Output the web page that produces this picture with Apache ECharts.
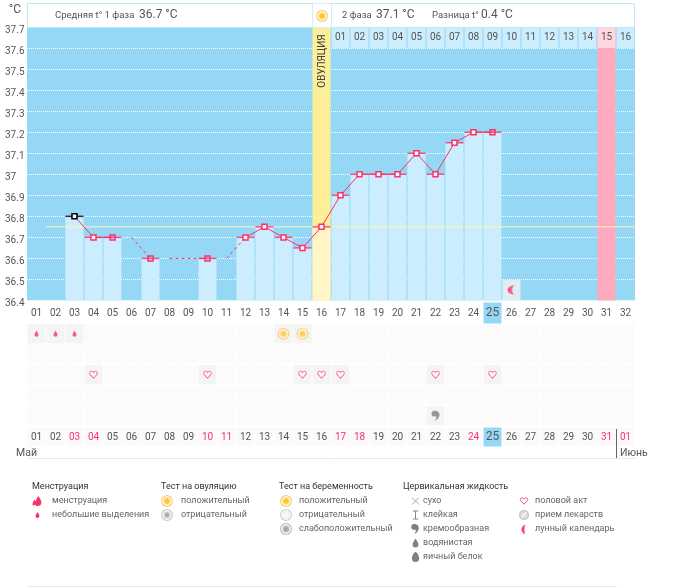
<!DOCTYPE html>
<html>
<head>
<meta charset="utf-8">
<title>График</title>
<style>
  html, body { margin: 0; padding: 0; background: #fff; }
  #chart { width: 673px; height: 587px; }
</style>
<script src="https://cdn.jsdelivr.net/npm/echarts@6/dist/echarts.min.js"></script>
</head>
<body>
<div id="chart"></div>
<script>
// данные графика
var cycleDays = ['01','02','03','04','05','06','07','08','09','10','11','12','13','14','15','16',
  '17','18','19','20','21','22','23','24','25','26','27','28','29','30','31','32'];
var calendarDates = ['01','02','03','04','05','06','07','08','09','10','11','12','13','14','15','16',
  '17','18','19','20','21','22','23','24','25','26','27','28','29','30','31','01'];
var redDates = [3, 4, 10, 11, 17, 18, 24, 31, 32];
var phaseDays = ['01','02','03','04','05','06','07','08','09','10','11','12','13','14','15','16'];
var temperature = [null, null, 36.8, 36.7, 36.7, null, 36.6, null, null, 36.6, null, 36.7, 36.75, 36.7, 36.65, 36.75,
  36.9, 37, 37, 37, 37.1, 37, 37.15, 37.2, 37.2, null, null, null, null, null, null, null];
var hollowDays = [5, 7, 10, 25];
var gapDays1 = [6, 7];
var gapTemps1 = [36.7, 36.6];
var gapDays2 = [8, 10];
var gapTemps2 = [36.6, 36.6];
var gapDays3 = [11, 12];
var gapTemps3 = [36.6, 36.7];
var coverLine = 36.75;
var ovulationDay = 16;
var periodDay = 31;
var todayDay = 25;
var moonDay = 26;
var moonTemp = 36.45;
var bleedingDays = [1, 2, 3];
var ovulationTestDays = [14, 15];
var intercourseDays = [4, 10, 15, 16, 17, 22, 25];
var creamyDays = [22];
var tableRows = ['a', 'b', 'c', 'd', 'e'];

var font = 'Roboto, "Noto Sans", sans-serif';
var PINK = '#ff2f68';
var TEXT = '#555';
var LEGEND = '#666';
var SYMBOL = 'path:' + '//';

var PATHS = {
  drop: 'M5 0C5 0 10 7 10 10.5A5 5 0 0 1 0 10.5C0 7 5 0 5 0Z',
  heart: 'M12 21L3 12C0 9 0 4 4 2.5C7.5 1.5 10.5 3 12 6C13.5 3 16.5 1.5 20 2.5C24 4 24 9 21 12Z',
  moon: 'M10 0A10 10 0 1 0 10 20A4 10 0 0 1 10 0Z',
  comma: 'M4 0C9 -1 13 3 12 8C11 12 8 15 5 16C7 13 8 11 7 9C3 10 0 8 0 4.5C0 2 2 0 4 0Z',
  egg: 'M6 0C9 0 12 7 12 11A6 6 0 0 1 0 11C0 7 3 0 6 0Z',
  twoDrops: 'M9 0C9 0 14 6 14 10A5 5 0 0 1 9.5 15A5 5 0 0 1 5 15C5 15 5 14 4 13C3 15 2 15 1 15C-1 13 1 9 3 6C4 8 5 8 5 8C6 5 9 0 9 0Z',
  cross: 'M0 0L10 10M10 0L0 10',
  stem: 'M1 0H9M5 0V12M1 12H9'
};

function radial(stops) {
  return new echarts.graphic.RadialGradient(0.5, 0.5, 0.5, stops.map(function (s) {
    return { offset: s[0], color: s[1] };
  }));
}
var MOON = new echarts.graphic.LinearGradient(0, 0, 1, 0, [
  { offset: 0, color: '#f4286a' }, { offset: 0.6, color: '#f9557f' }, { offset: 1, color: '#ffc4d4' }
]);
var SUN = [[0, '#ffb52e'], [0.45, '#ffd257'], [0.62, '#fff3c8'], [0.78, '#fff3c8'], [0.82, '#f8cf78'], [1, '#f8cf78']];
var GREY_SUN = [[0, '#999'], [0.45, '#ccc'], [0.62, '#f0f0f0'], [0.78, '#f0f0f0'], [0.82, '#ccc'], [1, '#ccc']];
var PALE = [[0, '#fafafa'], [0.8, '#f2f2f2'], [0.84, '#cfcfcf'], [1, '#cfcfcf']];
var WEAK = [[0, '#999'], [0.5, '#bbb'], [0.6, '#eee'], [0.78, '#eee'], [0.84, '#bbb'], [1, '#bbb']];
var PILL = [[0, '#eee'], [0.7, '#d8d8d8'], [1, '#bbb']];

// ячейки таблицы симптомов
function cells(rowCount) {
  var out = [];
  for (var r = 0; r < rowCount; r++) {
    for (var d = 0; d < cycleDays.length; d++) out.push([d, r]);
  }
  return out;
}
function dayPoints(days, row) {
  return days.map(function (d) { return [d - 1, row]; });
}
function activeCells() {
  return dayPoints(bleedingDays.concat(ovulationTestDays), 0)
    .concat(dayPoints(intercourseDays, 2))
    .concat(dayPoints(creamyDays, 4));
}
function gapSeries(days, temps) {
  return {
    type: 'line', xAxisIndex: 0, yAxisIndex: 0, symbol: 'none', z: 5, silent: true,
    data: days.map(function (d, i) { return [d - 1, temps[i]]; }),
    lineStyle: { color: PINK, width: 1, type: [3, 3] }
  };
}

// подписи дней: сегодняшний день выделен
var dayRich = {
  d: { width: 18, height: 21, lineHeight: 21, align: 'center', color: TEXT, fontSize: 10, fontFamily: font },
  today: { width: 18, height: 21, lineHeight: 21, align: 'center', color: TEXT, fontSize: 12, fontFamily: font, backgroundColor: '#94d8f5' }
};
var dateRich = {
  d: { width: 18, height: 19, lineHeight: 19, align: 'center', color: TEXT, fontSize: 10, fontFamily: font, backgroundColor: '#fbfafb' },
  r: { width: 18, height: 19, lineHeight: 19, align: 'center', color: PINK, fontSize: 10, fontFamily: font, backgroundColor: '#fbfafb' },
  today: { width: 18, height: 19, lineHeight: 19, align: 'center', color: TEXT, fontSize: 12, fontFamily: font, backgroundColor: '#94d8f5' }
};

var lineData = temperature.map(function (v, i) {
  if (v === null) return '-';
  var hollow = hollowDays.indexOf(i + 1) >= 0;
  return {
    value: v,
    itemStyle: { color: hollow ? 'transparent' : '#fff', borderColor: i === 2 ? '#000' : PINK }
  };
});
var capData = temperature.map(function (v, i) {
  if (v === null) return '-';
  return { value: v, itemStyle: { color: i === 2 ? '#000' : PINK } };
});
var barData = temperature.map(function (v, i) {
  if (v === null) return '-';
  return { value: v, itemStyle: { color: i + 1 === ovulationDay ? '#fff5c6' : '#cbedfe' } };
});
var bandData = cycleDays.map(function (d, i) {
  if (i + 1 === ovulationDay) return { value: 37.7, itemStyle: { color: '#fdee98' } };
  if (i + 1 === periodDay) return { value: 37.7, itemStyle: { color: '#ffa9be' } };
  return '-';
});
var phaseData = cycleDays.map(function (d, i) {
  if (i < ovulationDay) return '-';
  return { value: 1, itemStyle: { color: i + 1 === periodDay ? '#ffd6e2' : '#cbedfe' } };
});

// значки легенды
function glyph(path, cx, cy, w, h, fill, stroke) {
  return { type: 'path',
    shape: { pathData: path, layout: 'center', x: cx - w / 2, y: cy - h / 2, width: w, height: h },
    style: { fill: fill || 'none', stroke: stroke || 'none', lineWidth: 1 } };
}
var legendGlyphs = [
  glyph(PATHS.twoDrops, 37, 501, 9, 10, '#f6336a'),
  glyph(PATHS.drop, 37.5, 515, 4, 6, '#f6336a'),
  glyph(PATHS.cross, 415.5, 501, 7, 7, 'none', '#aaa'),
  glyph(PATHS.stem, 415.5, 515, 7, 8, 'none', '#888'),
  glyph(PATHS.comma, 415, 529, 8, 10, '#808080'),
  glyph(PATHS.drop, 415.5, 543, 6, 9, '#808080'),
  glyph(PATHS.egg, 415.5, 557, 8, 10, '#808080'),
  glyph(PATHS.heart, 524, 501, 7.5, 7, '#fff', '#f6558a'),
  glyph(PATHS.moon, 524, 529.5, 8, 10, MOON)
];

var series = [
  { type: 'bar', xAxisIndex: 0, yAxisIndex: 0, data: bandData, barWidth: 18, barGap: '-100%', z: 1, silent: true },
  { type: 'bar', xAxisIndex: 0, yAxisIndex: 0, data: barData, barWidth: 18, barGap: '-100%', z: 2, silent: true },
  { type: 'line', xAxisIndex: 1, yAxisIndex: 0, data: [[1, coverLine], [32, coverLine]], symbol: 'none', z: 3, silent: true,
    lineStyle: { color: '#fdf8b4', width: 1 } },
  { type: 'scatter', xAxisIndex: 0, yAxisIndex: 0, data: capData, symbol: 'rect', symbolSize: [18, 1.5], z: 4, silent: true },
  gapSeries(gapDays1, gapTemps1),
  gapSeries(gapDays2, gapTemps2),
  gapSeries(gapDays3, gapTemps3),
  { type: 'line', xAxisIndex: 0, yAxisIndex: 0, data: lineData, symbol: 'rect', symbolSize: 5, showAllSymbol: true, connectNulls: false,
    lineStyle: { color: PINK, width: 1 }, itemStyle: { borderWidth: 1.5 }, z: 5, silent: true },
  { type: 'scatter', xAxisIndex: 0, yAxisIndex: 0, data: [[moonDay - 1, moonTemp]], symbol: 'rect', symbolSize: [18, 20],
    itemStyle: { color: '#f3f3f3' }, z: 4, silent: true },
  { type: 'scatter', xAxisIndex: 0, yAxisIndex: 0, data: [[moonDay - 1, moonTemp]], symbol: SYMBOL + PATHS.moon, symbolSize: [8, 10],
    itemStyle: { color: MOON }, z: 5, silent: true },
  // строка дней второй фазы
  { type: 'bar', xAxisIndex: 2, yAxisIndex: 1, data: phaseData, barWidth: 18, silent: true,
    label: { show: true, position: 'inside', color: TEXT, fontSize: 10, fontFamily: font,
      formatter: function (p) { return phaseDays[p.dataIndex - ovulationDay]; } } },
  // таблица симптомов
  { type: 'scatter', xAxisIndex: 3, yAxisIndex: 2, data: cells(tableRows.length), symbol: 'rect', symbolSize: [18, 19],
    itemStyle: { color: '#fbfafb' }, z: 1, silent: true },
  { type: 'scatter', xAxisIndex: 3, yAxisIndex: 2, data: activeCells(), symbol: 'rect', symbolSize: [18, 19],
    itemStyle: { color: '#f2f2f2' }, z: 2, silent: true },
  { type: 'scatter', xAxisIndex: 3, yAxisIndex: 2, data: dayPoints(bleedingDays, 0), symbol: SYMBOL + PATHS.drop, symbolSize: [4, 6],
    itemStyle: { color: '#f6336a' }, z: 3, silent: true },
  { type: 'scatter', xAxisIndex: 3, yAxisIndex: 2, data: dayPoints(ovulationTestDays, 0), symbol: 'circle', symbolSize: 12,
    itemStyle: { color: radial(SUN) }, z: 3, silent: true },
  { type: 'scatter', xAxisIndex: 3, yAxisIndex: 2, data: dayPoints(intercourseDays, 2), symbol: SYMBOL + PATHS.heart, symbolSize: [7.5, 7],
    itemStyle: { color: '#fff', borderColor: '#f6558a', borderWidth: 1 }, z: 3, silent: true },
  { type: 'scatter', xAxisIndex: 3, yAxisIndex: 2, data: dayPoints(creamyDays, 4), symbol: SYMBOL + PATHS.comma, symbolSize: [8, 10],
    itemStyle: { color: '#808080' }, z: 3, silent: true },
  { type: 'custom', coordinateSystem: 'none', silent: true, z: 10,
    data: legendGlyphs.map(function (g, i) { return [i]; }),
    renderItem: function (params) { return legendGlyphs[params.dataIndex]; } }
];

// графические элементы: шапка, месяцы, легенда
function label(text, x, y, size, color) {
  return { type: 'text', z: 20, silent: true, x: x, y: y,
    style: { text: text, fill: color || LEGEND, font: (size || 9) + 'px ' + font, verticalAlign: 'middle' } };
}
function disc(cx, cy, r, stops) {
  return { type: 'circle', z: 20, silent: true, shape: { cx: cx, cy: cy, r: r }, style: { fill: radial(stops) } };
}
function rule(x1, y1, x2, y2, color) {
  return { type: 'line', z: 20, silent: true, shape: { x1: x1, y1: y1, x2: x2, y2: y2 }, style: { stroke: color, lineWidth: 1 } };
}

var L = [501, 515, 529, 543, 557];
var graphic = [
  { type: 'rect', z: 19, silent: true, shape: { x: 27.5, y: 3.5, width: 607, height: 24 }, style: { fill: '#fff', stroke: '#bfe7f8', lineWidth: 1 } },
  { type: 'rect', z: 19, silent: true, shape: { x: 312.5, y: 3.5, width: 19, height: 24 }, style: { fill: '#fff', stroke: '#cfeefb', lineWidth: 1 } },
  disc(322, 16, 6, SUN),
  label('Средняя t° 1 фаза', 55, 15.5, 9.5, TEXT),
  label('36.7 °C', 139, 15, 12, TEXT),
  label('2 фаза', 342, 15.5, 9.5, TEXT),
  label('37.1 °C', 376, 15, 12, TEXT),
  label('Разница t°', 432, 15.5, 9.5, TEXT),
  label('0.4 °C', 481, 15, 12, TEXT),
  { type: 'text', z: 20, silent: true, x: 322, y: 61, rotation: Math.PI / 2,
    style: { text: 'ОВУЛЯЦИЯ', fill: '#444', font: '10px ' + font, align: 'center', verticalAlign: 'middle' } },
  label('Май', 16, 453, 10.5, TEXT),
  label('Июнь', 620, 453, 10.5, TEXT),
  rule(27, 458.5, 636, 458.5, '#e8e8e8'),
  rule(616.5, 429, 616.5, 458, '#666'),
  rule(27, 586.5, 617, 586.5, '#e8e8e8'),

  label('Менструация', 32, 487, 9, '#333'),
  label('менструация', 52, L[0]),
  label('небольшие выделения', 52, L[1]),

  label('Тест на овуляцию', 161, 487, 9, '#333'),
  disc(167, 501, 6, SUN),
  label('положительный', 181, L[0]),
  disc(167, 515, 6, GREY_SUN),
  label('отрицательный', 181, L[1]),

  label('Тест на беременность', 279, 487, 9, '#333'),
  disc(286, 501, 6, SUN),
  label('положительный', 299, L[0]),
  disc(286, 515, 6, PALE),
  label('отрицательный', 299, L[1]),
  disc(286, 529, 6, WEAK),
  label('слабоположительный', 299, L[2]),

  label('Цервикальная жидкость', 403, 487, 9, '#333'),
  label('сухо', 423, L[0]),
  label('клейкая', 423, L[1]),
  label('кремообразная', 423, L[2]),
  label('водянистая', 423, L[3]),
  label('яичный белок', 423, L[4]),

  label('половой акт', 535, L[0]),
  disc(524, 515, 5, PILL),
  rule(521, 518, 527, 512, '#fff'),
  label('прием лекарств', 535, L[1]),
  label('лунный календарь', 535, L[2])
];

var myChart = echarts.init(document.getElementById('chart'), null, { renderer: 'canvas' });
myChart.setOption({
  animation: false,
  backgroundColor: '#fff',
  grid: [
    { left: 27, top: 27, width: 608, height: 273.5, backgroundColor: '#94d8f5', show: true, borderWidth: 0 },
    { left: 27, top: 27, width: 608, height: 21 },
    { left: 27, top: 323.5, width: 608, height: 102.5 }
  ],
  xAxis: [
    { type: 'category', gridIndex: 0, data: cycleDays, axisLine: { show: false }, axisTick: { show: false },
      axisLabel: { interval: 0, margin: 2, rich: dayRich,
        formatter: function (v) { return (v === cycleDays[todayDay - 1] ? '{today|' : '{d|') + v + '}'; } },
      splitLine: { show: false } },
    { type: 'value', gridIndex: 0, min: 0, max: 32, show: false },
    { type: 'category', gridIndex: 1, data: cycleDays, show: false },
    { type: 'category', gridIndex: 2, data: calendarDates, axisLine: { show: false }, axisTick: { show: false },
      axisLabel: { interval: 0, margin: 1.5, rich: dateRich,
        formatter: function (v, i) {
          if (i + 1 === todayDay) return '{today|' + v + '}';
          return (redDates.indexOf(i + 1) >= 0 ? '{r|' : '{d|') + v + '}';
        } } }
  ],
  yAxis: [
    { type: 'value', gridIndex: 0, min: 36.4, max: 37.7, interval: 0.1, name: '°C', nameLocation: 'end', nameGap: 11,
      nameTextStyle: { color: TEXT, fontSize: 12, fontFamily: font, align: 'right', padding: [0, 6, 0, 0] },
      axisLine: { show: false }, axisTick: { show: false },
      axisLabel: { color: TEXT, fontSize: 10, fontFamily: font, align: 'left', margin: 22, verticalAlign: 'top', lineHeight: 6,
        formatter: function (v) { return String(+v.toFixed(1)); } },
      splitLine: { lineStyle: { color: '#fff', type: 'dotted', width: 1 } } },
    { type: 'value', gridIndex: 1, min: 0, max: 1, show: false },
    { type: 'category', gridIndex: 2, data: tableRows, inverse: true, show: false }
  ],
  series: series,
  graphic: graphic
});
</script>
</body>
</html>
